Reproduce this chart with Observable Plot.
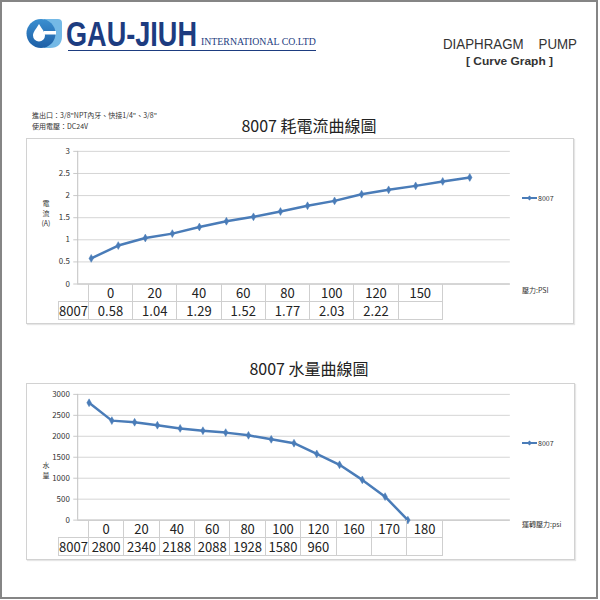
<!DOCTYPE html>
<html><head><meta charset="utf-8">
<script src="https://cdn.jsdelivr.net/npm/d3@7"></script>
<script src="https://cdn.jsdelivr.net/npm/@observablehq/plot@0.6"></script>
<style>
html,body{margin:0;padding:0;background:#fff;}
#page{position:relative;width:598px;height:599px;box-sizing:border-box;border:2px solid #858585;overflow:hidden;font-family:"Noto Sans CJK TC","Noto Sans",sans-serif;}
.abs{position:absolute;}
.frame{position:absolute;border:1px solid #d2d2d2;box-sizing:border-box;box-shadow:1px 1px 1px #e6e6e6;}
.tbl{position:absolute;border-collapse:collapse;table-layout:fixed;font-size:13px;color:#222;}
.tbl td{border:1px solid #cfcfcf;padding:0;text-align:center;white-space:nowrap;line-height:15px;vertical-align:middle;}
.small{font-size:7px;color:#333;white-space:nowrap;}
</style></head>
<body><div id="page"></div>
<script>
// ---- data ----
const companyName = "GAU-JIUH";
const companySuffix = "INTERNATIONAL CO.LTD";
const docTitle = "DIAPHRAGM    PUMP";
const docSubtitle = "[ Curve Graph ]";
const specLines = ["進出口：3/8\"NPT內牙、快接1/4\"、3/8\"", "使用電壓：DC24V"];
const model = "8007";

const currentTitle = "8007 耗電流曲線圖";
const currentIndex = [0,1,2,3,4,5,6,7,8,9,10,11,12,13,14];
const currentValues = [0.58,0.87,1.04,1.14,1.29,1.42,1.52,1.64,1.77,1.88,2.03,2.13,2.22,2.32,2.41];
const currentTicks = [0,0.5,1,1.5,2,2.5,3];
const currentTableHead = ["0","20","40","60","80","100","120","150"];
const currentTableVals = ["0.58","1.04","1.29","1.52","1.77","2.03","2.22",""];
const currentXLabel = "壓力:PSI";

const flowTitle = "8007 水量曲線圖";
const flowIndex = [0,1,2,3,4,5,6,7,8,9,10,11,12,13,14];
const flowValues = [2800,2374,2335,2264,2188,2133,2088,2023,1928,1835,1580,1320,960,560,0];
const flowTicks = [0,500,1000,1500,2000,2500,3000];
const flowTableHead = ["0","20","40","60","80","100","120","160","170","180"];
const flowTableVals = ["2800","2340","2188","2088","1928","1580","960","","",""];
const flowXLabel = "運轉壓力:psi";

const lineColor = "#4a7cb8";
const page = d3.select("#page");

// ---- header ----
const hdr = page.append("svg").attr("class","abs").style("left","-2px").style("top","-2px")
  .attr("width",600).attr("height",80);
const grad = hdr.append("defs").append("linearGradient").attr("id","g1").attr("x1",0).attr("y1",0).attr("x2",0).attr("y2",1);
grad.append("stop").attr("offset","0").attr("stop-color","#3b8fd0");
grad.append("stop").attr("offset","1").attr("stop-color","#1d5fa6");
hdr.append("path").attr("d","M44,19 L58,19 Q62,19 62,23 L62,36 Q62,48 50,48 L44,48 Z").attr("fill","#74b9e6");
hdr.append("circle").attr("cx",41).attr("cy",33.5).attr("r",14.5).attr("fill","url(#g1)");
hdr.append("rect").attr("x",44).attr("y",31).attr("width",12).attr("height",3.5).attr("fill","#fff");
hdr.append("path").attr("d","M39,24 C36,29 33,32 33,35.5 A6,6 0 0 0 45,35.5 C45,32 42,29 39,24 Z").attr("fill","#fff");
const nameT = hdr.append("text").attr("x",0).attr("y",0)
  .attr("font-family","Liberation Sans, Arial").attr("font-weight","bold").attr("font-size",35)
  .attr("fill","#1d3c80").text(companyName);
const nw = nameT.node().getComputedTextLength() || 169;
nameT.attr("transform",`translate(66,46) scale(${131/nw},1)`);
const sufT = hdr.append("text").attr("x",0).attr("y",0)
  .attr("font-family","Liberation Serif, serif").attr("font-size",10)
  .attr("fill","#1d3c80").text(companySuffix);
const sw = sufT.node().getComputedTextLength() || 115;
sufT.attr("transform",`translate(201,45) scale(${115/sw},1)`);
hdr.append("line").attr("x1",68).attr("x2",316).attr("y1",50.5).attr("y2",50.5).attr("stroke","#1d3c80").attr("stroke-width",1.2);
hdr.append("text").attr("x",443).attr("y",49).attr("textLength",134).attr("lengthAdjust","spacingAndGlyphs")
  .attr("font-family","Liberation Sans, Arial").attr("font-size",15.5).attr("fill","#333")
  .attr("xml:space","preserve").style("white-space","pre").text(docTitle);
hdr.append("text").attr("x",466).attr("y",65).attr("textLength",87).attr("lengthAdjust","spacingAndGlyphs")
  .attr("font-family","Liberation Sans, Arial").attr("font-weight","bold").attr("font-size",11).attr("fill","#333")
  .text(docSubtitle);

specLines.forEach((t,i)=>{
  page.append("div").attr("class","abs small").style("left","30px").style("top",(108+i*11)+"px").text(t);
});

// ---- chart builder ----
function chart({title, titleTop, frame, svgTop, svgH, mTop, mBottom, idx, vals, ticks, yDomain, xDomain, yLabel, yLabelTop, legendTop, xLabel, xLabelTop, head, rowVals, tableTop, colW}) {
  page.append("div").attr("class","abs").style("left","0").style("width","594px").style("top",titleTop+"px")
    .style("text-align","center").style("font-size","16px").style("color","#222").style("padding-left","20px").style("box-sizing","border-box")
    .text(title);
  page.append("div").attr("class","frame").style("left",frame[0]+"px").style("top",frame[1]+"px")
    .style("width",frame[2]+"px").style("height",frame[3]+"px");
  const data = idx.map((d,i)=>({i:d, v:vals[i]}));
  const svg = Plot.plot({
    width: 600, height: svgH,
    marginLeft: 80, marginRight: 83, marginTop: mTop, marginBottom: mBottom,
    x: {domain: xDomain, axis: null},
    y: {domain: yDomain},
    style: {fontFamily: "Noto Sans CJK TC, Noto Sans, sans-serif", fontSize: "8px", background: "transparent", overflow: "visible"},
    marks: [
      Plot.gridY(ticks, {stroke: "#d5d5d5", strokeOpacity: 1}),
      Plot.axisY(ticks, {tickSize: 4, tickPadding: 4, stroke: "#c8c8c8", fill: "#333", label: null, tickFormat: d => String(d)}),
      Plot.ruleX([xDomain[0]], {stroke: "#c0c0c0"}),
      Plot.ruleY([yDomain[0]], {stroke: "#c0c0c0"}),
      Plot.line(data, {x: "i", y: "v", stroke: lineColor, strokeWidth: 2.5}),
      Plot.dot(data, {x: "i", y: "v", symbol: "diamond", r: 2.4, fill: lineColor, stroke: lineColor, strokeWidth: 0.5})
    ]
  });
  d3.select(svg).style("position","absolute").style("left","-4px").style("top",svgTop+"px");
  page.node().appendChild(svg);

  const yl = page.append("div").attr("class","abs small").style("left","36px").style("top",yLabelTop+"px")
    .style("width","16px").style("text-align","center").style("line-height","10px");
  yl.html(yLabel.map(s=>`<div>${s}</div>`).join(""));

  const lg = page.append("div").attr("class","abs small").style("left","520px").style("top",legendTop+"px")
    .style("display","flex").style("align-items","center");
  lg.html(`<svg width="16" height="8"><line x1="0" x2="15" y1="4" y2="4" stroke="${lineColor}" stroke-width="2"/><path d="M7.5,1.5 L10,4 L7.5,6.5 L5,4 Z" fill="${lineColor}"/></svg><span>${model}</span>`);

  page.append("div").attr("class","abs small").style("left","520px").style("top",xLabelTop+"px").text(xLabel);

  const tbl = page.append("table").attr("class","tbl").style("left","56px").style("top",tableTop+"px");
  const cg = tbl.append("colgroup");
  cg.append("col").style("width","29px");
  head.forEach(()=>cg.append("col").style("width",colW+"px"));
  const r1 = tbl.append("tr").style("height","17px");
  r1.append("td").style("border","none");
  head.forEach(h=>r1.append("td").style("border-top","none").text(h));
  const r2 = tbl.append("tr").style("height","18px");
  r2.append("td").text(model);
  rowVals.forEach(v=>r2.append("td").text(v));
}

chart({
  title: currentTitle, titleTop: 111, frame: [24,136,548,186],
  svgTop: 137, svgH: 160, mTop: 12, mBottom: 14,
  idx: currentIndex, vals: currentValues, ticks: currentTicks, yDomain: [0,3], xDomain: [-0.5,15.5],
  yLabel: ["電","流","(A)"], yLabelTop: 196, legendTop: 191,
  xLabel: currentXLabel, xLabelTop: 283, head: currentTableHead, rowVals: currentTableVals, tableTop: 282, colW: 44.25
});
chart({
  title: flowTitle, titleTop: 354, frame: [24,381,549,177],
  svgTop: 381, svgH: 150, mTop: 11, mBottom: 12,
  idx: flowIndex, vals: flowValues, ticks: flowTicks, yDomain: [0,3000], xDomain: [-0.5,18.5],
  yLabel: ["水","量"], yLabelTop: 458, legendTop: 436,
  xLabel: flowXLabel, xLabelTop: 517, head: flowTableHead, rowVals: flowTableVals, tableTop: 518, colW: 35.4
});
</script></body></html>
